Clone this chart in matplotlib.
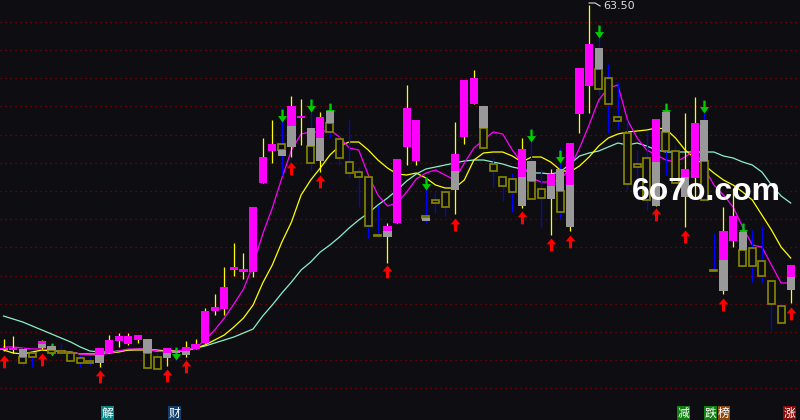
import numpy as np
import matplotlib
matplotlib.use("Agg")
import matplotlib.pyplot as plt
from matplotlib.patches import Rectangle
from matplotlib.path import Path
from matplotlib.lines import Line2D
from matplotlib.transforms import blended_transform_factory

# ---------------- data ----------------
high = [30.10, 30.40, 29.30, 28.80, 30.00, 29.70, 29.70, 28.70, 28.50, 28.30,
        29.20, 30.50, 30.70, 30.70, 30.50, 30.10, 28.70, 29.20, 29.30, 29.90,
        30.10, 33.20, 34.60, 37.30, 39.70, 38.70, 43.30, 50.20, 52.00, 53.20,
        54.40, 54.10, 54.20, 52.80, 53.40, 50.40, 52.00, 47.30, 46.30, 43.50,
        41.70, 48.10, 55.50, 52.00, 46.30, 44.80, 44.80, 51.80, 56.00, 57.00,
        53.60, 48.30, 46.30, 46.70, 50.20, 51.20, 47.10, 47.10, 49.20, 49.70,
        57.20, 63.50, 61.50, 57.60, 55.80, 52.00, 49.00, 50.80, 52.10, 53.50,
        49.50, 52.70, 54.30, 53.80, 40.70, 43.30, 45.20, 41.80, 41.00, 41.40,
        35.90, 33.70, 37.50]
low = [28.90, 28.70, 27.40, 27.30, 29.10, 28.50, 28.70, 27.90, 27.30, 27.50,
       27.30, 28.70, 29.30, 29.50, 29.70, 27.20, 27.10, 27.40, 28.00, 28.30,
       29.10, 29.70, 32.50, 32.50, 36.40, 36.10, 36.30, 45.70, 47.70, 46.50,
       48.30, 49.50, 47.00, 46.80, 50.20, 47.50, 46.20, 43.30, 40.20, 40.35,
       37.70, 41.70, 47.50, 47.50, 41.70, 42.70, 42.40, 42.60, 49.60, 53.60,
       49.00, 45.30, 43.90, 42.80, 43.20, 44.10, 41.30, 40.50, 42.20, 40.90,
       50.70, 52.70, 54.50, 50.70, 51.10, 45.00, 44.00, 43.00, 43.40, 46.50,
       45.70, 41.30, 44.30, 44.00, 36.95, 34.60, 39.30, 37.40, 35.80, 35.80,
       31.00, 31.70, 33.70]
body_top = [29.25, 29.25, 29.10, 28.70, 29.90, 29.40, 28.90, 28.70, 28.20, 27.90,
            29.20, 30.00, 30.40, 30.40, 30.50, 30.10, 28.30, 29.20, 28.90, 29.30,
            29.60, 32.90, 33.30, 35.30, 37.30, 37.10, 43.30, 48.30, 49.60, 49.60,
            53.40, 52.40, 51.20, 52.30, 52.90, 50.10, 47.80, 46.80, 46.30, 40.45,
            41.40, 48.10, 53.20, 52.00, 42.40, 44.00, 44.80, 48.60, 56.00, 56.20,
            53.40, 47.60, 46.30, 46.10, 49.10, 47.90, 45.10, 46.60, 47.10, 49.70,
            57.20, 59.60, 59.20, 56.20, 52.30, 50.70, 47.60, 48.20, 52.10, 52.80,
            48.90, 47.10, 51.70, 52.00, 37.05, 40.90, 42.40, 40.80, 39.20, 37.90,
            35.90, 33.40, 37.50]
body_split = [29.15, None, 28.30, None, 29.60, 29.00, None, None, None, None,
              28.50, None, None, None, None, 28.70, None, 28.70, None, 28.90,
              None, None, None, None, None, None, None, None, None, 49.00,
              51.40, None, 49.40, 50.20, 51.70, None, None, None, None, None,
              40.90, None, None, None, 42.15, None, None, 46.90, None, None,
              51.20, None, None, None, 46.30, 45.90, None, 45.40, 44.90, 45.50,
              None, None, 57.10, None, None, None, None, None, 47.80, 50.80,
              None, 46.30, None, 47.90, None, 38.00, None, 39.00, None, None,
              None, None, 36.30]
body_bottom = [29.00, 29.00, 27.70, 28.30, 29.20, 28.70, 28.70, 27.90, 27.70, 27.70,
               27.70, 28.70, 29.90, 29.60, 30.00, 27.20, 27.10, 28.20, 28.70, 28.50,
               29.10, 29.70, 32.90, 33.10, 37.05, 36.85, 36.80, 45.70, 48.90, 48.40,
               49.30, 52.20, 47.70, 47.90, 50.80, 48.20, 46.70, 46.30, 41.40, 40.35,
               40.30, 41.70, 49.30, 47.90, 41.90, 43.70, 43.30, 45.00, 50.30, 53.60,
               49.20, 46.90, 45.40, 44.80, 43.40, 44.10, 44.20, 44.10, 42.80, 41.30,
               52.60, 55.40, 55.10, 53.60, 51.90, 45.60, 47.30, 44.00, 43.40, 48.90,
               45.70, 44.30, 46.20, 44.00, 36.95, 34.90, 39.90, 37.40, 37.40, 36.40,
               33.60, 31.70, 35.00]
body_style = ["MG", "M", "GO", "O", "MG", "GO", "O", "O", "O", "O",
              "MG", "M", "M", "M", "M", "GO", "O", "MG", "G", "MG",
              "M", "M", "M", "M", "M", "M", "M", "M", "M", "OG",
              "MG", "M", "GO", "MG", "GO", "O", "O", "O", "O", "O",
              "MG", "M", "M", "M", "OG", "O", "O", "MG", "M", "M",
              "GO", "O", "O", "O", "MG", "GO", "O", "MG", "GO", "MG",
              "M", "M", "GO", "O", "O", "O", "O", "O", "MG", "GO",
              "O", "MG", "M", "GO", "O", "MG", "M", "GO", "O", "O",
              "O", "O", "MG"]

ma_fast = [29.3, 29.3, 29.2, 29.1, 29.1, 29.0, 28.9, 28.8, 28.6, 28.5,
           28.5, 28.7, 28.9, 29.1, 29.1, 29.1, 28.9, 28.8, 28.9, 29.0,
           29.2, 30.0, 31.0, 32.2, 33.6, 35.1, 37.5, 40.6, 43.2, 46.2,
           49.0, 50.6, 50.8, 50.8, 51.0, 50.3, 49.2, 49.0, 46.5, 44.5,
           43.4, 43.7, 44.8, 46.1, 46.7, 47.0, 46.5, 46.0, 47.7, 49.2,
           50.0, 50.8, 50.6, 49.0, 47.7, 46.2, 45.8, 45.8, 46.0, 47.2,
           49.2, 51.5, 54.0, 55.2, 55.5, 52.0, 50.2, 49.0, 48.5, 48.0,
           47.8, 48.3, 49.0, 47.2, 45.5, 44.5, 43.3, 41.3, 39.5, 39.3,
           37.5, 35.7, 35.7]
ma_mid = [29.0, 28.7, 28.6, 28.8, 29.0, 28.9, 28.9, 28.8, 28.6, 28.6,
          28.6, 28.7, 28.8, 29.0, 29.0, 29.0, 28.9, 28.9, 28.9, 28.9,
          29.2, 29.5, 30.0, 30.5, 31.3, 32.2, 33.5, 35.7, 37.5, 39.8,
          41.8, 44.5, 46.0, 47.2, 48.5, 49.4, 49.8, 49.8, 49.0, 48.0,
          47.2, 46.6, 46.5, 46.7, 46.2, 45.5, 45.2, 45.2, 46.0, 48.0,
          48.7, 48.8, 48.8, 48.4, 47.8, 48.3, 48.3, 47.8, 47.0, 46.8,
          47.4, 48.3, 49.4, 50.2, 50.6, 50.8, 50.9, 51.0, 51.2, 51.1,
          50.2, 49.0, 48.2, 47.5, 46.7, 46.0, 45.5, 44.8, 44.0, 42.5,
          41.0, 39.3, 38.2]
ma_slow = [32.4, 32.1, 31.8, 31.4, 31.0, 30.6, 30.2, 29.8, 29.3, 28.9,
           28.8, 28.8, 28.9, 29.0, 29.1, 29.1, 29.0, 28.9, 28.9, 29.0,
           29.2, 29.4, 29.7, 30.0, 30.3, 30.7, 31.1, 32.4, 33.5, 34.7,
           35.8, 37.0, 37.8, 38.8, 39.5, 40.3, 41.2, 42.0, 42.7, 43.5,
           44.2, 45.0, 45.9, 46.6, 47.1, 47.3, 47.5, 47.7, 47.9, 48.0,
           48.0, 47.8, 47.6, 47.3, 47.1, 46.7, 46.7, 46.6, 46.8, 47.6,
           48.4, 48.7, 48.9, 49.3, 49.7, 49.5, 49.7, 49.4, 49.0, 48.8,
           48.8, 48.8, 48.8, 48.8, 48.8, 48.4, 48.2, 47.8, 47.5, 46.8,
           45.5, 44.4, 43.7]

buy_idx = [0, 4, 10, 17, 19, 30, 33, 40, 47, 54, 57, 59, 68, 71, 75, 82]
buy_lvl = [28.5, 28.7, 27.0, 27.1, 28.0, 47.8, 46.5, 37.5, 42.2, 42.9,
           40.2, 40.5, 43.2, 41.0, 34.2, 33.3]
sell_idx = [5, 18, 29, 32, 34, 44, 55, 58, 62, 69, 73, 77]
sell_lvl = [28.4, 28.0, 51.8, 52.8, 52.4, 45.0, 49.8, 47.7, 60.2, 52.4, 52.7, 40.4]

grid_levels = [61.83, 59.01, 56.19, 53.37, 50.55, 47.73, 44.91, 42.09,
               39.27, 36.45, 33.63, 30.81, 27.99, 25.17]

event_pos = [10.85, 17.85, 70.85, 73.65, 75.05, 81.85]
event_text = ["解", "财", "减", "跌", "榜", "涨"]
event_color = ["#0b8585", "#123f6b", "#118011", "#118011", "#8a4a10", "#8a0a0a"]

# ---------------- style ----------------
BG = "#0e0e12"
MAG = "#ff00ff"
GRAY = "#999999"
OLIVE = "#848400"
YEL = "#ffff00"
BLUE = "#0000ff"

fig = plt.figure(figsize=(8, 4.2), dpi=100, facecolor=BG)
ax = fig.add_axes([0, 0, 1, 1], facecolor=BG)
ax.set_xlim(-0.365, 82.97)
ax.set_ylim(22.0, 64.0)
ax.axis("off")

for g in grid_levels:
    ax.axhline(g, color="#8a0000", lw=0.9, ls=(0, (1, 3)), zorder=1)

xs = np.arange(len(high))
ax.plot(xs, ma_slow, color="#8af0c8", lw=0.9, zorder=2)
ax.plot(xs, ma_mid, color=YEL, lw=0.9, zorder=2)
ax.plot(xs, ma_fast, color=MAG, lw=0.9, zorder=2)

W = 0.84
fill = {"M": MAG, "G": GRAY}
for i in range(len(high)):
    st = body_style[i]
    wc = YEL if "M" in st else BLUE
    ax.vlines(i, low[i], high[i], color=wc, lw=0.9, zorder=3)
    if len(st) == 1:
        parts = [(st, body_top[i], body_bottom[i])]
    else:
        parts = [(st[0], body_top[i], body_split[i]),
                 (st[1], body_split[i], body_bottom[i])]
    for c, t, b in parts:
        if c == "O":
            ax.add_patch(Rectangle((i - W / 2 + 0.06, b), W - 0.12, t - b,
                                   facecolor=BG, edgecolor=OLIVE, lw=1.25,
                                   zorder=4))
        else:
            ax.add_patch(Rectangle((i - W / 2, b), W, t - b,
                                   facecolor=fill[c], edgecolor="none",
                                   zorder=4.1))

# arrows (tip at origin, units in pixels)
up_path = Path([(0, 0), (4.5, -5.5), (1.4, -5.5), (1.4, -12), (-1.4, -12),
                (-1.4, -5.5), (-4.5, -5.5), (0, 0)], closed=True)
down_path = Path([(0, 0), (4.2, 6), (1.1, 6), (1.1, 12), (-1.1, 12),
                  (-1.1, 6), (-4.2, 6), (0, 0)], closed=True)
ax.plot(buy_idx, buy_lvl, ls="none", marker=up_path, markersize=18.5,
        color="#ff0000", markeredgewidth=0, zorder=5)
ax.plot(sell_idx, sell_lvl, ls="none", marker=down_path, markersize=18.5,
        color="#00cc00", markeredgewidth=0, zorder=3.5)

# peak flag
pk = int(np.argmax(high))
fig.canvas.draw()
px, py = ax.transData.transform((pk, high[pk]))
fig.add_artist(Line2D([px, px + 6, px + 11], [py + 2, py + 2, py - 1],
                      color="#dddddd", lw=0.8, transform=None))
ax.annotate(f"{high[pk]:.2f}", xy=(pk, high[pk]), xytext=(10, -3),
            textcoords="offset points", color="#dddddd", fontsize=8,
            va="baseline", ha="left", family="DejaVu Sans",
            annotation_clip=False)

# watermark
fig.text(632 / 800, 1 - 200 / 420, "6o7o.com", color="white", fontsize=23,
         family="Liberation Sans", weight="bold", ha="left", va="baseline",
         zorder=10)

# event labels
bt = blended_transform_factory(ax.transData, ax.transAxes)
for p, t, c in zip(event_pos, event_text, event_color):
    ax.text(p, 0.016, t, transform=bt, color="white", fontsize=8.5,
            family=["Noto Sans CJK SC", "DejaVu Sans"], ha="center",
            va="center", zorder=10,
            bbox=dict(boxstyle="square,pad=0.05", facecolor=c,
                      edgecolor="none"))

fig.savefig("out.png", dpi=100, facecolor=BG)
